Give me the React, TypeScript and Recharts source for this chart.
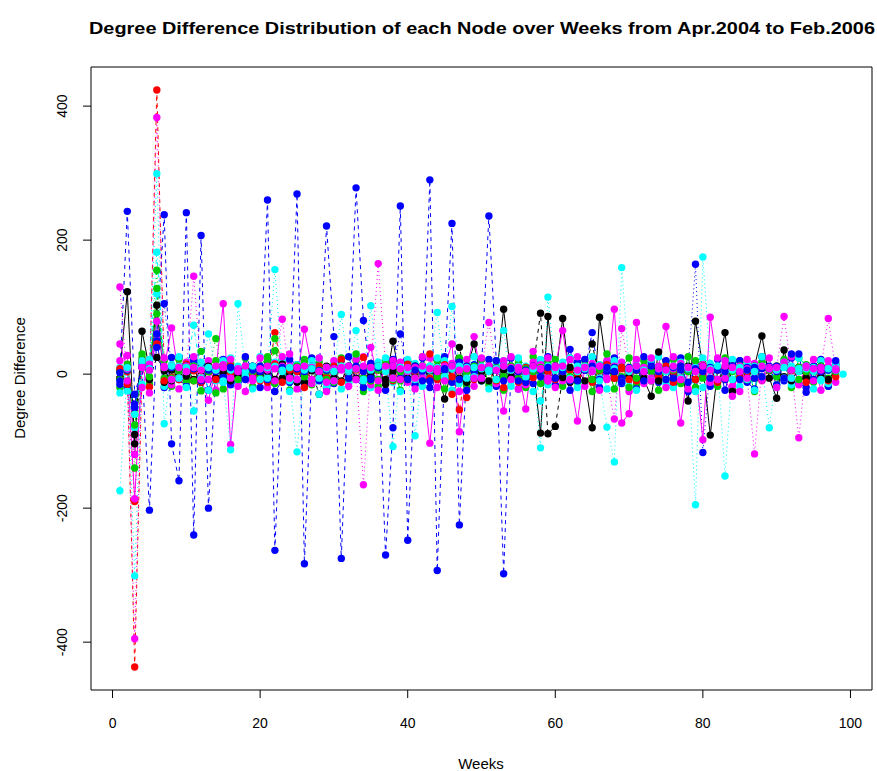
import React from "react";
import { LineChart, Line, XAxis, YAxis, ReferenceArea } from "recharts";

// ---------- data (weeks 1..99) ----------
const WEEK_COUNT = 99;
const X_TICKS = [0, 20, 40, 60, 80, 100];
const Y_TICKS = [-400, -200, 0, 200, 400];

const blackSolid = [5, 123, -104, 64, 8, 103, -12, 6, -4, 10, -8, 5, 12, -6, 3, -10, 8, 4, -5, 2, 10, -8, 15, -4, 6, -12, 9, -3, 7, 4, -10, 12, -6, 8, -4, 10, -15, 49, -8, 6, -5, 12, -8, 4, -37, 10, -6, 8, 45, -10, 6, -8, 97, -4, 10, -6, 12, -88, 86, -6, 83, -12, 6, -10, -80, 85, 8, -6, 10, -4, 6, -8, -33, 33, 10, -6, 8, -40, 79, 12, -91, 6, 62, -26, 10, -8, 12, 57, -6, -36, 36, -10, 8, -6, 10, -4, 6, 10, null];
const redDashed = [-6, 4, -437, 10, -19, 424, 8, -5, 12, 3, -10, 6, 4, -8, 10, 2, -5, 8, -3, 6, -12, 62, 8, -6, 4, 10, -8, 5, -4, 12, 22, -6, 8, 4, -10, 6, 12, -4, 8, -8, 5, 10, -6, 8, 14, -4, -53, 12, -8, 6, 4, -10, 8, 6, -12, 10, -5, 8, 4, -8, 10, 6, -4, 12, -8, 5, 10, -6, 8, 4, -10, 6, 8, -5, 12, 4, -8, 10, 6, -4, 8, -12, 10, 5, -6, 8, 12, -4, 6, 10, -8, 5, 10, -6, 8, 4, -10, 6, null];
const greenDotted = [4, -10, -140, 30, 8, 155, -6, 10, 4, -8, 12, 34, 6, 53, -8, 10, 4, -6, 12, 8, 20, 53, -10, 6, 12, 18, -8, 10, 4, -12, 8, 12, 30, -6, 10, -8, 14, 6, -10, 8, 12, -6, 8, 10, -4, 12, 6, -10, 8, 4, 10, -8, 6, 12, -6, 8, 4, 10, -8, 6, 12, -4, 8, 6, -10, 12, 8, -6, 10, -20, 8, 6, -10, 12, 4, 8, -6, 10, -8, 12, 6, 10, -8, 4, 12, 6, -6, 10, 8, -4, 12, 6, -8, 10, 4, 8, -6, 10, null];
const blueDashed = [2, 243, -30, 10, -203, 60, 238, -104, -159, 241, -240, 207, -200, 8, -5, 10, 4, -8, 6, 12, 260, -263, 10, -6, 269, -283, 8, 5, 221, 56, -275, 12, 278, 80, -6, 10, -270, -80, 251, -248, 6, -10, 290, -293, 8, 225, -225, 12, -6, 10, 236, 20, -298, 8, -10, 6, 12, -4, 10, -6, 8, 37, -10, 6, 62, -8, 10, 4, -12, 8, 6, -10, 12, 4, -8, 10, 6, -12, 8, 4, -6, 10, 4, 12, -8, 6, 10, -4, 8, 12, -6, 30, 30, -27, 8, 10, 6, 20, null];
const cyanDotted = [-174, 10, -301, 20, 8, 299, -74, 12, -6, 10, -55, 8, 60, 6, -10, -113, 105, 4, 12, -8, 10, 156, 6, -10, -116, 12, 8, -6, 10, 4, 89, 6, 65, -8, 102, 12, 4, -108, 10, 6, -92, 8, 12, 92, -6, 101, 8, 10, -4, 12, 6, 8, 65, -10, 12, 4, 8, -110, 115, 6, 10, -6, 12, 8, 4, -10, -79, -131, 159, 8, 12, 6, -10, 8, 4, 12, -6, 10, -195, 175, 8, 12, -152, 6, 10, -8, 4, 12, -80, 6, 10, -6, 8, 12, 4, -10, 8, 6, 0];
const magentaSolid = [45, 8, -186, 12, -28, 79, 10, 69, -6, 12, 10, -8, -39, 6, 105, -105, 8, 12, -6, 10, 6, -10, 12, 30, -8, 67, 10, 4, -12, 8, 10, 6, -8, 12, 40, -10, 6, 12, -8, 4, 10, -6, -103, 8, 12, 45, -86, 10, 56, -6, 12, 8, -55, 10, 6, -52, 34, 8, -10, 12, 65, -8, -70, 10, 6, 12, -8, 97, -73, -59, 77, 10, -6, 12, 71, 8, -73, 10, 6, -98, 85, 10, -6, -33, 12, 8, 4, -8, 10, 6, 12, -6, 8, 10, -10, 6, 12, 8, null];
const blackDashed = [-6, 10, -90, 20, -8, 25, 5, -10, 8, -3, 6, -12, 4, 10, -5, 8, -3, 6, 12, -8, 4, 10, -6, 3, -12, 8, 5, -30, 12, -6, 8, -4, 10, -10, 6, 12, -8, 4, 10, -6, 12, -8, 5, 10, -6, 8, 40, -12, 6, 4, -10, 8, 6, -6, 12, -8, 10, 91, -89, -78, -5, 10, -8, 12, 45, -6, 8, 4, -10, 6, 12, -6, 8, -10, 4, 10, -6, 12, -8, 10, 6, -10, 8, 12, -6, 4, 10, -8, 6, 12, -4, 8, 10, -6, 4, 12, -8, 6, null];
const redDotted = [8, -15, -190, 20, 6, 45, -10, 12, -8, 15, 5, -12, 10, 6, -8, 12, 4, -6, 10, -10, 8, 15, -12, 6, 10, -20, 8, 12, -6, 4, -12, 10, 6, 25, -8, 12, 4, -10, 8, 15, -6, 10, 30, -8, 12, -30, 6, -35, 10, -6, 12, 8, -20, 10, 4, -12, 8, 6, -10, 12, 4, -8, 10, 6, -12, 8, 14, -6, 10, -8, 12, 4, -10, 8, 6, -12, 10, 4, -8, 12, 6, -10, 8, 12, -6, 4, 10, -8, 6, 12, -6, 10, 4, -12, 8, 6, 10, -4, null];
const greenDashed = [-8, 6, -76, 15, -4, 128, 10, -6, 8, 12, -10, 8, 4, -28, 10, 6, -8, 12, 4, -6, 10, 35, 8, -6, 12, -4, 10, 6, -8, 4, 12, -6, 8, 10, -10, 6, 14, -8, 4, 10, -6, 8, 12, -4, 6, 10, -8, 4, 12, -6, 8, 10, -4, 6, 12, -8, 10, 4, -6, 8, 10, -6, 4, 12, -8, 6, 30, 10, -4, 8, -6, 12, 4, 10, -8, 6, 12, 4, 20, -6, 8, 10, -4, 6, 12, -8, 4, 10, 6, 12, -6, 8, 10, 4, -8, 12, 6, 4, null];
const blueDotted = [-10, 6, -50, 12, 8, 40, 105, 10, -6, 12, 8, -10, 6, 4, -12, 10, 8, -6, 12, 4, -8, 10, 6, -12, 8, 4, 12, -10, 6, 8, 10, -6, 12, 4, -8, 10, 6, 12, 60, -8, 12, 4, -10, 8, 6, 12, -8, 10, 4, -6, 12, 6, -10, 8, 4, -12, 10, 6, -8, 12, 4, -10, 8, 6, 12, -8, 4, 10, -6, 8, 12, 4, -8, 10, 6, -6, 12, 8, 164, -117, 10, 6, -8, 12, 4, 10, -6, 8, 12, 4, -10, 8, 6, 12, -8, 4, 10, 6, null];
const cyanDotDash = [-28, 8, -60, 12, 6, 182, 10, -8, 12, 4, 73, -6, 10, 8, -12, 6, 12, -4, 10, 8, -6, 12, 4, 10, -8, 6, 12, -30, 8, -10, 12, 4, 8, -10, 6, 12, 8, -6, 10, 4, -8, 12, 6, 10, -4, 8, 12, -6, 10, 8, 4, -8, 12, 6, 10, -4, 8, -40, 12, 6, 10, -8, 4, 12, 6, -6, 10, 8, -12, 4, 12, 6, -8, 10, 4, 12, -6, 8, 10, -20, 6, 12, 4, -8, 10, 6, 12, -4, 8, 10, -6, 12, 4, 8, 10, -8, 6, 12, null];
const magentaDotted = [130, -10, -395, 10, 6, 383, 12, -8, 10, 4, 146, 6, -8, 12, 10, -6, 4, 12, -10, 8, 12, 8, 82, -6, 10, 12, -8, 4, 10, -10, 6, 12, 8, -165, 10, 165, 12, -6, 8, 10, -6, 12, 8, 4, -10, 12, 6, 8, -6, 10, 77, 6, 12, -8, 10, 4, 12, 8, -6, 10, 12, -8, 6, 10, 4, 12, -6, -67, 68, 8, 12, 4, -10, 8, 6, 12, -8, 10, 4, 12, 6, -8, 12, 10, 4, -6, -119, 12, 8, 10, 86, 6, -95, 12, 8, 10, 83, 6, null];
const greenSolid = [-20, 15, -60, 25, -15, 90, 20, -18, 22, -12, 18, -25, 14, 20, -22, 16, -10, 24, -18, 12, 26, -14, 20, -24, 10, 22, -16, 18, -20, 14, 24, -12, 20, -26, 16, -18, 22, 12, -24, 18, -14, 26, -10, 20, -22, 14, 24, -18, 10, 22, -16, 20, -24, 12, 18, -20, 26, -14, 16, 22, -18, 24, -12, 20, -26, 14, 18, -22, 10, 24, -16, 20, 12, -24, 18, 22, -14, 26, -20, 16, 12, -18, 24, -22, 20, 14, -26, 18, 10, -16, 22, -20, 24, 14, -12, 20, -18, 16, null];
const blueSolid = [-15, -22, -45, 18, 10, 50, -20, 25, -8, -18, 20, 14, -24, 8, 22, -16, -12, 26, 6, -20, 18, -26, -10, 22, 14, -18, 24, 10, -22, -14, 20, 26, -8, -20, 16, 12, -24, 22, -6, 18, -16, 24, -20, 10, 26, -12, 18, -24, 14, -10, 22, -18, 16, 24, -22, 8, -14, 20, 26, -16, 12, -24, 18, 22, -10, -20, 16, 24, -14, 10, -22, 26, 18, -12, 20, -16, 24, -26, 14, 8, -18, 22, -24, 16, 20, -12, -22, 26, 10, -16, 18, 24, -14, -20, 12, 22, -18, 14, null];
const cyanDashed = [10, -25, -80, -15, 22, 120, -18, 14, 26, -20, 12, 18, -24, -10, 20, 24, -16, 8, -22, 26, -12, 18, 22, -26, 14, -8, 20, 24, -18, 16, -22, -14, 26, 10, -20, 18, 24, -12, -26, 22, 16, -18, 8, 24, 20, -24, -14, 18, 26, -10, -22, 16, 20, -18, 24, 12, -26, 22, -16, 10, 18, 24, -20, -12, 26, 14, -22, 20, 16, -18, -24, 10, 22, 26, -14, -20, 18, 12, -26, 24, 16, -10, 20, 22, -18, 14, -24, 26, 8, -20, 18, -16, 24, 12, -22, 20, -14, 18, null];
const magentaDashed = [20, 28, -120, -20, 15, 60, 24, -16, -22, 18, 26, -12, 20, -24, 14, 22, -18, -26, 10, 24, -20, 16, 26, 12, -22, 18, -14, 24, -26, 20, 8, -18, 22, 26, -16, -24, 14, 20, 18, -12, -22, 26, 24, -20, 10, 16, -26, 22, -18, 24, 12, -14, 20, 26, -22, -16, 18, 14, 24, -20, -10, 22, 26, -18, 16, -24, 20, 12, 18, -26, 22, -14, 24, 10, -20, 26, 16, -22, 18, 14, -12, 24, 20, -18, -26, 22, 16, -10, 24, -20, 18, 26, -16, 12, 22, -24, 20, -12, null];

const SERIES_VALUES: Record<string, (number | null)[]> = {
  blackSolid, redDashed, greenDotted, blueDashed, cyanDotted, magentaSolid,
  blackDashed, redDotted, greenDashed, blueDotted, cyanDotDash, magentaDotted,
  greenSolid, blueSolid, cyanDashed, magentaDashed,
};

// ---------- styles ----------
const BLACK = "#000000", RED = "#FF0000", GREEN = "#00CD00", BLUE = "#0000FF", CYAN = "#00FFFF", MAGENTA = "#FF00FF";
const DASH = "4 4", DOT = "1 3", DOTDASH = "1 3 4 3", LONGDASH = "7 3";
const SERIES_STYLE: { key: string; color: string; dash?: string }[] = [
  { key: "greenSolid", color: GREEN },
  { key: "blueSolid", color: BLUE },
  { key: "cyanDashed", color: CYAN, dash: DASH },
  { key: "magentaDashed", color: MAGENTA, dash: LONGDASH },
  { key: "blackSolid", color: BLACK },
  { key: "redDashed", color: RED, dash: DASH },
  { key: "greenDotted", color: GREEN, dash: DOT },
  { key: "blackDashed", color: BLACK, dash: DASH },
  { key: "redDotted", color: RED, dash: DOT },
  { key: "greenDashed", color: GREEN, dash: DASH },
  { key: "blueDotted", color: BLUE, dash: DOT },
  { key: "cyanDotDash", color: CYAN, dash: DOTDASH },
  { key: "magentaSolid", color: MAGENTA },
  { key: "blueDashed", color: BLUE, dash: DASH },
  { key: "cyanDotted", color: CYAN, dash: DOT },
  { key: "magentaDotted", color: MAGENTA, dash: DOT },
];

const rows = Array.from({ length: WEEK_COUNT }, (_, i) => {
  const r: Record<string, number | null> = { week: i + 1 };
  for (const k of Object.keys(SERIES_VALUES)) r[k] = SERIES_VALUES[k][i] ?? null;
  return r;
});

const FONT = "'Liberation Sans', Arial, Helvetica, sans-serif";
const X_DOMAIN: [number, number] = [-2.92, 102.92];
const Y_DOMAIN: [number, number] = [-471.4, 458.4];

const makeDot = (key: string, color: string) => (p: any) => {
  if (p == null || p.cx == null || p.cy == null || p.value == null || Number.isNaN(p.cy)) {
    return <g key={`${key}-e-${p?.index}`} />;
  }
  return <circle key={`${key}-d-${p.index}`} cx={p.cx} cy={p.cy} r={3.7} fill={color} stroke="none" />;
};

const XTick = (p: any) => (
  <text x={p.x} y={728} textAnchor="middle" fontSize={14} fontFamily={FONT} fill="#000">
    {p.payload.value}
  </text>
);
const YTick = (p: any) => (
  <text x={67} y={p.y} transform={`rotate(-90, 67, ${p.y})`} textAnchor="middle" fontSize={14} fontFamily={FONT} fill="#000">
    {p.payload.value}
  </text>
);

export default function App() {
  return (
    <div style={{ position: "absolute", left: 0, top: 0, width: 877, height: 771, background: "#fff" }}>
      <LineChart width={877} height={771} data={rows} margin={{ top: 67, right: 5, bottom: 0, left: 0 }}>
        <XAxis
          dataKey="week"
          type="number"
          domain={X_DOMAIN}
          allowDataOverflow
          ticks={X_TICKS}
          height={81}
          axisLine={false}
          tickLine={{ stroke: "#000" }}
          tickSize={8}
          tick={<XTick />}
          interval={0}
        />
        <YAxis
          type="number"
          domain={Y_DOMAIN}
          allowDataOverflow
          ticks={Y_TICKS}
          width={91}
          axisLine={false}
          tickLine={{ stroke: "#000" }}
          tickSize={8}
          tick={<YTick />}
          interval={0}
        />
        {SERIES_STYLE.map((s) => (
          <Line
            key={s.key}
            dataKey={s.key}
            type="linear"
            stroke={s.color}
            strokeWidth={1}
            strokeDasharray={s.dash}
            dot={makeDot(s.key, s.color)}
            activeDot={false}
            isAnimationActive={false}
            connectNulls={false}
          />
        ))}
        <ReferenceArea
          x1={X_DOMAIN[0]}
          x2={X_DOMAIN[1]}
          y1={Y_DOMAIN[0]}
          y2={Y_DOMAIN[1]}
          fill="none"
          fillOpacity={0}
          stroke="#000"
          strokeWidth={1}
          ifOverflow="visible"
        />
      </LineChart>
      <svg width={877} height={771} style={{ position: "absolute", left: 0, top: 0, pointerEvents: "none" }}>
        <text x={482} y={34} textAnchor="middle" fontSize={17} fontWeight="bold" fontFamily={FONT} fill="#000" textLength={786} lengthAdjust="spacingAndGlyphs">
          Degree Difference Distribution of each Node over Weeks from Apr.2004 to Feb.2006
        </text>
        <text x={481} y={769} textAnchor="middle" fontSize={15} fontFamily={FONT} fill="#000">
          Weeks
        </text>
        <text x={25} y={378} transform="rotate(-90, 25, 378)" textAnchor="middle" fontSize={15} fontFamily={FONT} fill="#000">
          Degree Difference
        </text>
      </svg>
    </div>
  );
}
